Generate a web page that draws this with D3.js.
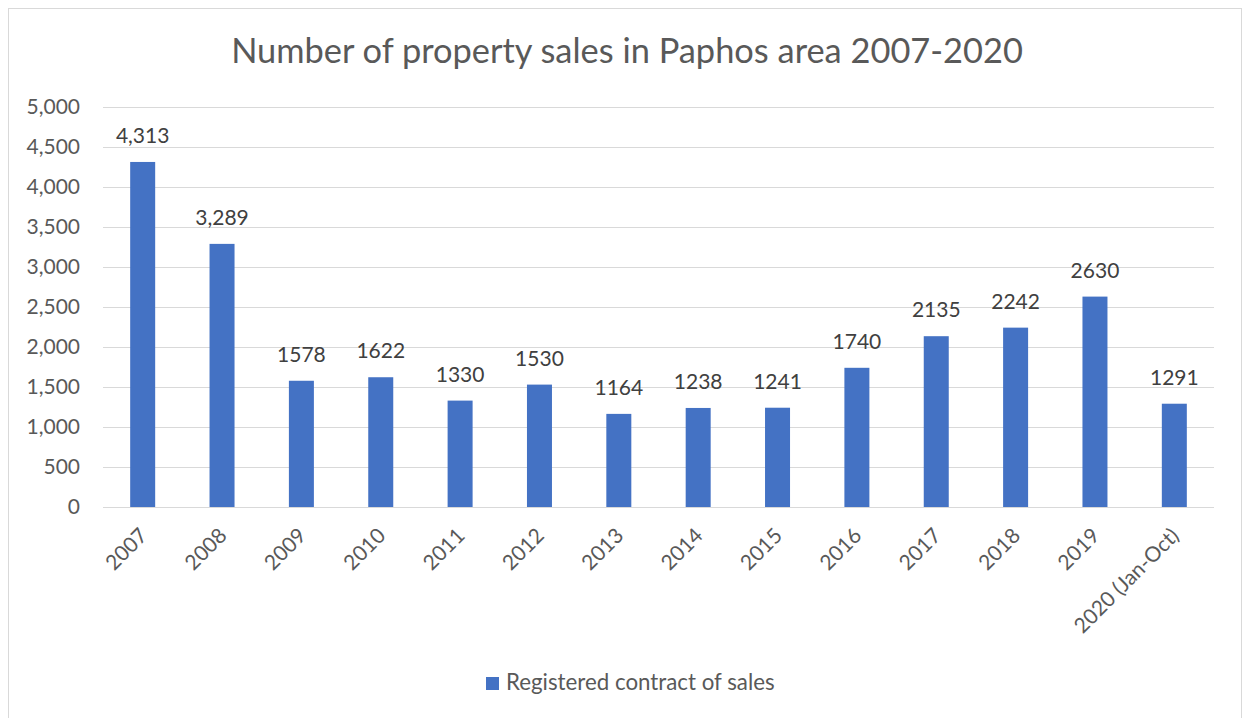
<!DOCTYPE html>
<html>
<head>
<meta charset="utf-8">
<script src="https://cdn.jsdelivr.net/npm/d3@7"></script>
<style>
  body { margin: 0; background: #fff; }
  svg { font-family: Lato, "Open Sans", sans-serif; }
</style>
</head>
<body>
<svg id="chart" width="1245" height="718"></svg>
<script>
const years = ["2007", "2008", "2009", "2010", "2011", "2012", "2013", "2014", "2015", "2016", "2017", "2018", "2019", "2020 (Jan-Oct)"]
const sales = [4313, 3289, 1578, 1622, 1330, 1530, 1164, 1238, 1241, 1740, 2135, 2242, 2630, 1291]
const yTicks = [0, 500, 1000, 1500, 2000, 2500, 3000, 3500, 4000, 4500, 5000]
const seriesName = "Registered contract of sales"
const title = "Number of property sales in Paphos area 2007-2020"

const svg = d3.select("#chart")
const plot = {left: 103, right: 1214, top: 107, bottom: 507}

// outer frame
svg.append("rect")
    .attr("x", 8.5).attr("y", 8.5)
    .attr("width", 1233).attr("height", 720)
    .attr("fill", "#fff")
    .attr("stroke", "#d9d9d9")

svg.append("text")
    .attr("x", 627).attr("y", 63)
    .attr("text-anchor", "middle")
    .attr("font-size", 34.4)
    .attr("fill", "#595959")
    .text(title)

let x = d3.scaleBand().domain(years).range([plot.left, plot.right]).paddingInner(0.685).paddingOuter(0.3425)
let y = d3.scaleLinear().domain([0, 5000]).range([plot.bottom, plot.top])

// gridlines
svg.append("g")
    .selectAll("line")
    .data(yTicks)
    .join("line")
    .attr("x1", plot.left).attr("x2", plot.right)
    .attr("y1", d => y(d) + 0.5).attr("y2", d => y(d) + 0.5)
    .attr("stroke", "#d9d9d9")
    .attr("stroke-width", 1)

// y axis labels
let yAxis = d3.axisLeft(y).tickValues(yTicks).tickSize(0).tickPadding(0).tickFormat(d3.format(","))
let gy = svg.append("g")
    .attr("transform", "translate(80,0)")
    .call(yAxis)
gy.select(".domain").remove()
gy.selectAll("text")
    .attr("font-family", "Lato, 'Open Sans', sans-serif")
    .attr("font-size", 21)
    .attr("fill", "#595959")

// bars
svg.append("g")
    .selectAll("rect")
    .data(sales)
    .join("rect")
    .attr("x", (d, i) => x(years[i]))
    .attr("width", x.bandwidth())
    .attr("y", d => y(d))
    .attr("height", d => y(0) - y(d))
    .attr("fill", "#4472c4")

// data labels
svg.append("g")
    .selectAll("text")
    .data(sales)
    .join("text")
    .attr("x", (d, i) => x(years[i]) + x.bandwidth() / 2)
    .attr("y", d => y(d) - 19)
    .attr("text-anchor", "middle")
    .attr("font-size", 21)
    .attr("fill", "#404040")
    .text((d, i) => i < 2 ? d3.format(",")(d) : String(d))

// x axis labels
let xAxis = d3.axisBottom(x).tickSize(0).tickPadding(0)
let gx = svg.append("g")
    .attr("transform", "translate(0," + plot.bottom + ")")
    .call(xAxis)
gx.select(".domain").remove()
gx.selectAll("text")
    .attr("font-family", "Lato, 'Open Sans', sans-serif")
    .attr("font-size", 21)
    .attr("fill", "#595959")
    .attr("text-anchor", "end")
    .attr("dy", null)
    .attr("transform", "translate(6,30) rotate(-45)")

// legend
let lg = svg.append("g").attr("transform", "translate(486,677)")
lg.append("rect").attr("width", 13).attr("height", 13).attr("fill", "#4472c4")
lg.append("text")
    .attr("x", 20).attr("y", 13)
    .attr("font-size", 22.3)
    .attr("fill", "#595959")
    .text(seriesName)
</script>
</body>
</html>
